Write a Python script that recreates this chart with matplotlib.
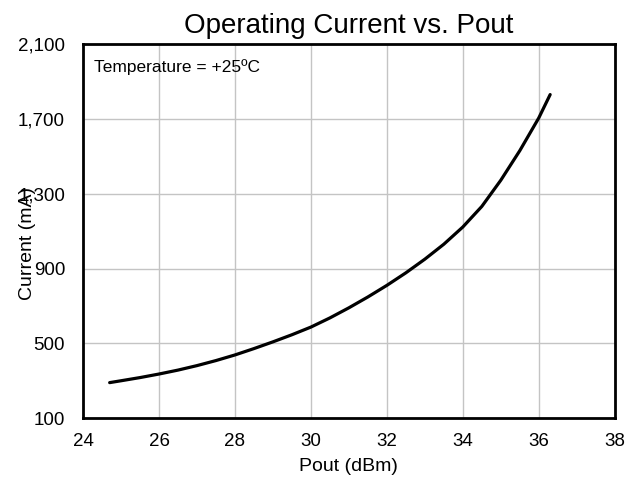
import matplotlib
matplotlib.use('Agg')
import matplotlib.pyplot as plt
from matplotlib.ticker import FuncFormatter

plt.rcParams['font.family'] = ['Liberation Sans', 'DejaVu Sans']

# values
pout_dbm = [24.7, 25.0, 25.5, 26.0, 26.5, 27.0, 27.5, 28.0, 28.5, 29.0, 29.5, 30.0, 30.5,
            31.0, 31.5, 32.0, 32.5, 33.0, 33.5, 34.0, 34.5, 35.0, 35.5, 36.0, 36.3]
current_ma = [290, 300, 317, 336, 357, 381, 408, 438, 472, 508, 546, 587, 636,
              690, 748, 810, 877, 950, 1030, 1122, 1232, 1372, 1530, 1705, 1830]

x_ticks = [24, 26, 28, 30, 32, 34, 36, 38]
y_ticks = [100, 500, 900, 1300, 1700, 2100]

fig = plt.figure(figsize=(6.39, 4.79), dpi=100)
ax = fig.add_axes([0.130, 0.127, 0.832, 0.781])

ax.plot(pout_dbm, current_ma, color='black', linewidth=2.3, solid_capstyle='round',
        solid_joinstyle='round')

ax.set_xlim(24, 38)
ax.set_ylim(100, 2100)
ax.set_xticks(x_ticks)
ax.set_yticks(y_ticks)
ax.yaxis.set_major_formatter(FuncFormatter(lambda v, p: f'{int(v):,}'))
ax.tick_params(length=0, labelsize=13.5)
ax.tick_params(axis='x', pad=10.5)
ax.tick_params(axis='y', pad=13)

ax.grid(True, color='#c4c4c4', linewidth=1)
ax.set_axisbelow(True)
for s in ax.spines.values():
    s.set_linewidth(2)
    s.set_color('black')

ax.set_title('Operating Current vs. Pout', fontsize=20, pad=8)
ax.set_xlabel('Pout (dBm)', fontsize=14, va='top')
ax.xaxis.set_label_coords(0.499, -0.106)
ax.set_ylabel('Current (mA)', fontsize=14)
ax.yaxis.set_label_coords(-0.089, 0.468)

ax.text(0.02, 0.96, 'Temperature = +25ºC', transform=ax.transAxes,
        fontsize=12.5, ha='left', va='top')

fig.savefig('out.png', dpi=100)
